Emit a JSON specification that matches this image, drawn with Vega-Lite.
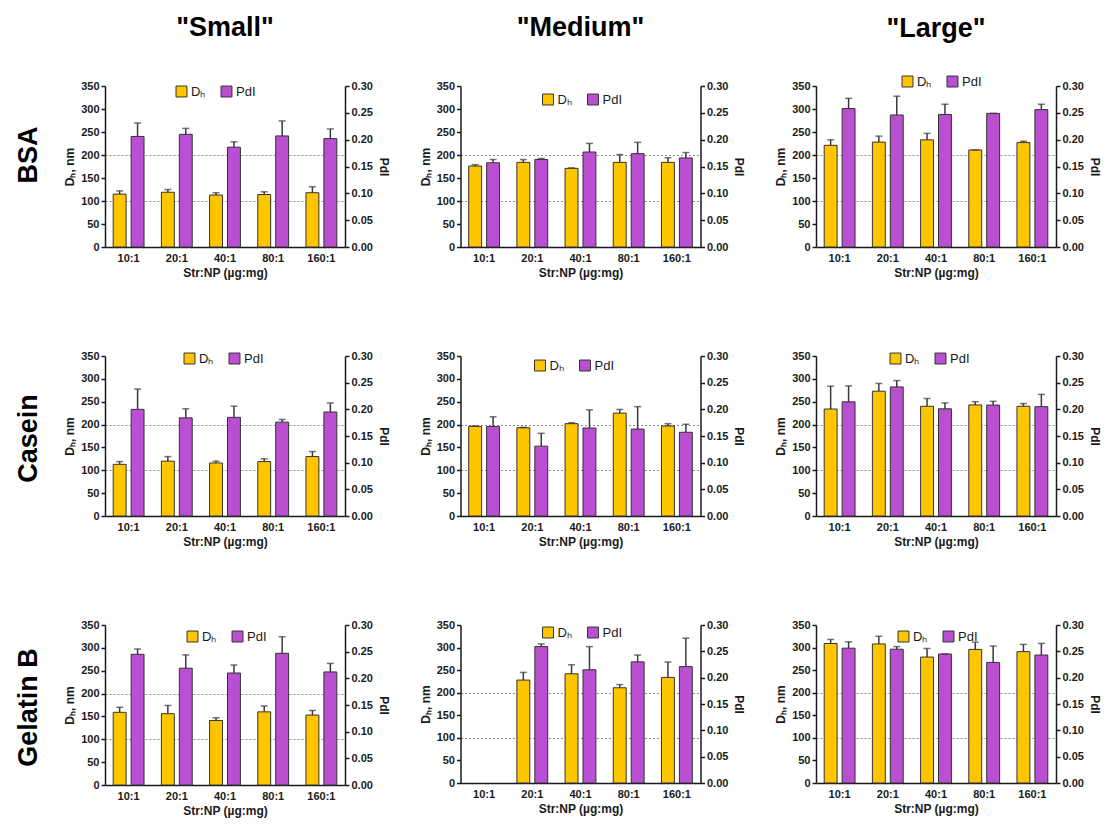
{
"$schema": "https://vega.github.io/schema/vega-lite/v6.json",
"padding": {"left": 14, "top": 14, "right": 0, "bottom": 2},
"background": "white",
"config": {
 "font": "Liberation Sans",
 "view": {"stroke": null},
 "range": {"category": ["#FFC600", "#BA4FD2"]},
 "bar": {"stroke": "#333333", "strokeWidth": 1},
 "rule": {"color": "#3a3a3a", "strokeWidth": 1.5},
 "tick": {"color": "#3a3a3a", "thickness": 1.5},
 "axis": {"domainColor": "#1a1a1a", "domainWidth": 1.5, "tickColor": "#1a1a1a", "tickWidth": 1.5, "tickSize": 4, "labelFont": "Liberation Sans", "labelFontWeight": "bold", "labelFontSize": 11, "labelColor": "#1a1a1a", "titleFont": "Liberation Sans", "titleFontWeight": "bold", "titleFontSize": 12, "titleColor": "#1a1a1a", "grid": false, "labelPadding": 2},
 "axisX": {"ticks": false, "labelPadding": 5, "labelAngle": 0, "titlePadding": 4},
 "legend": {"symbolType": "square", "symbolSize": 120, "symbolStrokeColor": "#333333", "symbolStrokeWidth": 1, "labelFontSize": 13, "labelFont": "Liberation Sans", "labelColor": "#1a1a1a", "columnPadding": 13, "labelOffset": 3},
 "title": {"font": "Liberation Sans", "fontWeight": "bold", "color": "#000000", "frame": "group", "anchor": "middle"}
},
"datasets": {"d": [
 {"p":"BSA","s":"Small","r":"10:1","m":"Dh","v":115,"up":122},
 {"p":"BSA","s":"Small","r":"20:1","m":"Dh","v":119,"up":125},
 {"p":"BSA","s":"Small","r":"40:1","m":"Dh","v":113,"up":118},
 {"p":"BSA","s":"Small","r":"80:1","m":"Dh","v":114,"up":120},
 {"p":"BSA","s":"Small","r":"160:1","m":"Dh","v":118,"up":131},
 {"p":"BSA","s":"Small","r":"10:1","m":"PdI","v":0.206,"up":0.231},
 {"p":"BSA","s":"Small","r":"20:1","m":"PdI","v":0.210,"up":0.221},
 {"p":"BSA","s":"Small","r":"40:1","m":"PdI","v":0.186,"up":0.196},
 {"p":"BSA","s":"Small","r":"80:1","m":"PdI","v":0.207,"up":0.235},
 {"p":"BSA","s":"Small","r":"160:1","m":"PdI","v":0.202,"up":0.220},
 {"p":"BSA","s":"Medium","r":"10:1","m":"Dh","v":176,"up":179},
 {"p":"BSA","s":"Medium","r":"20:1","m":"Dh","v":184,"up":190},
 {"p":"BSA","s":"Medium","r":"40:1","m":"Dh","v":171,"up":172},
 {"p":"BSA","s":"Medium","r":"80:1","m":"Dh","v":184,"up":201},
 {"p":"BSA","s":"Medium","r":"160:1","m":"Dh","v":184,"up":194},
 {"p":"BSA","s":"Medium","r":"10:1","m":"PdI","v":0.157,"up":0.163},
 {"p":"BSA","s":"Medium","r":"20:1","m":"PdI","v":0.163,"up":0.165},
 {"p":"BSA","s":"Medium","r":"40:1","m":"PdI","v":0.177,"up":0.193},
 {"p":"BSA","s":"Medium","r":"80:1","m":"PdI","v":0.174,"up":0.195},
 {"p":"BSA","s":"Medium","r":"160:1","m":"PdI","v":0.166,"up":0.176},
 {"p":"BSA","s":"Large","r":"10:1","m":"Dh","v":221,"up":233},
 {"p":"BSA","s":"Large","r":"20:1","m":"Dh","v":228,"up":241},
 {"p":"BSA","s":"Large","r":"40:1","m":"Dh","v":233,"up":247},
 {"p":"BSA","s":"Large","r":"80:1","m":"Dh","v":211,"up":211},
 {"p":"BSA","s":"Large","r":"160:1","m":"Dh","v":227,"up":230},
 {"p":"BSA","s":"Large","r":"10:1","m":"PdI","v":0.258,"up":0.277},
 {"p":"BSA","s":"Large","r":"20:1","m":"PdI","v":0.246,"up":0.281},
 {"p":"BSA","s":"Large","r":"40:1","m":"PdI","v":0.247,"up":0.266},
 {"p":"BSA","s":"Large","r":"80:1","m":"PdI","v":0.249,"up":0.249},
 {"p":"BSA","s":"Large","r":"160:1","m":"PdI","v":0.256,"up":0.266},
 {"p":"Casein","s":"Small","r":"10:1","m":"Dh","v":113,"up":119},
 {"p":"Casein","s":"Small","r":"20:1","m":"Dh","v":120,"up":130},
 {"p":"Casein","s":"Small","r":"40:1","m":"Dh","v":116,"up":120},
 {"p":"Casein","s":"Small","r":"80:1","m":"Dh","v":119,"up":125},
 {"p":"Casein","s":"Small","r":"160:1","m":"Dh","v":130,"up":141},
 {"p":"Casein","s":"Small","r":"10:1","m":"PdI","v":0.200,"up":0.238},
 {"p":"Casein","s":"Small","r":"20:1","m":"PdI","v":0.184,"up":0.201},
 {"p":"Casein","s":"Small","r":"40:1","m":"PdI","v":0.185,"up":0.206},
 {"p":"Casein","s":"Small","r":"80:1","m":"PdI","v":0.176,"up":0.181},
 {"p":"Casein","s":"Small","r":"160:1","m":"PdI","v":0.195,"up":0.212},
 {"p":"Casein","s":"Medium","r":"10:1","m":"Dh","v":196,"up":197},
 {"p":"Casein","s":"Medium","r":"20:1","m":"Dh","v":193,"up":194},
 {"p":"Casein","s":"Medium","r":"40:1","m":"Dh","v":202,"up":204},
 {"p":"Casein","s":"Medium","r":"80:1","m":"Dh","v":225,"up":233},
 {"p":"Casein","s":"Medium","r":"160:1","m":"Dh","v":197,"up":202},
 {"p":"Casein","s":"Medium","r":"10:1","m":"PdI","v":0.168,"up":0.186},
 {"p":"Casein","s":"Medium","r":"20:1","m":"PdI","v":0.131,"up":0.155},
 {"p":"Casein","s":"Medium","r":"40:1","m":"PdI","v":0.165,"up":0.199},
 {"p":"Casein","s":"Medium","r":"80:1","m":"PdI","v":0.163,"up":0.205},
 {"p":"Casein","s":"Medium","r":"160:1","m":"PdI","v":0.157,"up":0.172},
 {"p":"Casein","s":"Large","r":"10:1","m":"Dh","v":234,"up":284},
 {"p":"Casein","s":"Large","r":"20:1","m":"Dh","v":273,"up":290},
 {"p":"Casein","s":"Large","r":"40:1","m":"Dh","v":240,"up":257},
 {"p":"Casein","s":"Large","r":"80:1","m":"Dh","v":243,"up":250},
 {"p":"Casein","s":"Large","r":"160:1","m":"Dh","v":240,"up":246},
 {"p":"Casein","s":"Large","r":"10:1","m":"PdI","v":0.214,"up":0.244},
 {"p":"Casein","s":"Large","r":"20:1","m":"PdI","v":0.242,"up":0.254},
 {"p":"Casein","s":"Large","r":"40:1","m":"PdI","v":0.201,"up":0.212},
 {"p":"Casein","s":"Large","r":"80:1","m":"PdI","v":0.208,"up":0.215},
 {"p":"Casein","s":"Large","r":"160:1","m":"PdI","v":0.205,"up":0.228},
 {"p":"Gelatin B","s":"Small","r":"10:1","m":"Dh","v":159,"up":170},
 {"p":"Gelatin B","s":"Small","r":"20:1","m":"Dh","v":156,"up":174},
 {"p":"Gelatin B","s":"Small","r":"40:1","m":"Dh","v":141,"up":147},
 {"p":"Gelatin B","s":"Small","r":"80:1","m":"Dh","v":160,"up":173},
 {"p":"Gelatin B","s":"Small","r":"160:1","m":"Dh","v":153,"up":163},
 {"p":"Gelatin B","s":"Small","r":"10:1","m":"PdI","v":0.245,"up":0.255},
 {"p":"Gelatin B","s":"Small","r":"20:1","m":"PdI","v":0.219,"up":0.244},
 {"p":"Gelatin B","s":"Small","r":"40:1","m":"PdI","v":0.210,"up":0.225},
 {"p":"Gelatin B","s":"Small","r":"80:1","m":"PdI","v":0.247,"up":0.278},
 {"p":"Gelatin B","s":"Small","r":"160:1","m":"PdI","v":0.212,"up":0.228},
 {"p":"Gelatin B","s":"Medium","r":"20:1","m":"Dh","v":228,"up":245},
 {"p":"Gelatin B","s":"Medium","r":"40:1","m":"Dh","v":242,"up":262},
 {"p":"Gelatin B","s":"Medium","r":"80:1","m":"Dh","v":211,"up":218},
 {"p":"Gelatin B","s":"Medium","r":"160:1","m":"Dh","v":234,"up":268},
 {"p":"Gelatin B","s":"Medium","r":"20:1","m":"PdI","v":0.259,"up":0.264},
 {"p":"Gelatin B","s":"Medium","r":"40:1","m":"PdI","v":0.215,"up":0.259},
 {"p":"Gelatin B","s":"Medium","r":"80:1","m":"PdI","v":0.230,"up":0.243},
 {"p":"Gelatin B","s":"Medium","r":"160:1","m":"PdI","v":0.221,"up":0.275},
 {"p":"Gelatin B","s":"Large","r":"10:1","m":"Dh","v":309,"up":318},
 {"p":"Gelatin B","s":"Large","r":"20:1","m":"Dh","v":308,"up":325},
 {"p":"Gelatin B","s":"Large","r":"40:1","m":"Dh","v":279,"up":298},
 {"p":"Gelatin B","s":"Large","r":"80:1","m":"Dh","v":296,"up":312},
 {"p":"Gelatin B","s":"Large","r":"160:1","m":"Dh","v":291,"up":307},
 {"p":"Gelatin B","s":"Large","r":"10:1","m":"PdI","v":0.256,"up":0.268},
 {"p":"Gelatin B","s":"Large","r":"20:1","m":"PdI","v":0.254,"up":0.259},
 {"p":"Gelatin B","s":"Large","r":"40:1","m":"PdI","v":0.245,"up":0.245},
 {"p":"Gelatin B","s":"Large","r":"80:1","m":"PdI","v":0.229,"up":0.260},
 {"p":"Gelatin B","s":"Large","r":"160:1","m":"PdI","v":0.243,"up":0.265}
]},
"data": {"name": "d"},
"spacing": 72,
"resolve": {"scale": {"color": "independent"}, "legend": {"color": "independent"}},
"vconcat": [
 {"title": {"text": "BSA", "orient": "left", "fontSize": 27, "offset": 21, "frame": "bounds", "dx": -9},
  "spacing": 28.5,
  "resolve": {"scale": {"color": "independent"}, "legend": {"color": "independent"}},
  "hconcat": [
   {"width": 240, "height": 161,
    "title": {"text": "\"Small\"", "fontSize": 27, "offset": 38},
    "transform": [{"filter": "datum.p==='BSA' && datum.s==='Small'"}],
    "encoding": {"x": {"field": "r", "type": "nominal", "scale": {"domain": ["10:1","20:1","40:1","80:1","160:1"], "paddingInner": 0.36, "paddingOuter": 0.17}, "axis": {"title": "Str:NP (µg:mg)"}},
                 "xOffset": {"field": "m", "type": "nominal", "scale": {"domain": ["Dh","PdI"], "paddingInner": 0.28, "paddingOuter": 0}}},
    "layer": [
     {"transform": [{"filter": "datum.m==='Dh'"}],
      "encoding": {"y": {"field": "v", "type": "quantitative", "title": "Dₕ, nm", "scale": {"domain": [0,350], "nice": false}, "axis": {"values": [0,50,100,150,200,250,300,350], "titlePadding": 4, "grid": true, "gridDash": [2,2], "gridColor": "#8c8c8c", "gridOpacity": {"condition": {"test": "datum.value===100||datum.value===200", "value": 1}, "value": 0}}}},
      "layer": [
       {"mark": "rule", "encoding": {"y2": {"field": "up"}}},
       {"mark": "bar", "encoding": {"color": {"field": "m", "type": "nominal", "legend": {"title": null, "orient": "none", "legendX": 70, "legendY": -1, "direction": "horizontal", "labelExpr": "datum.label==='Dh'?'Dₕ':'PdI'"}}}},
       {"mark": {"type": "tick", "size": 7}, "encoding": {"y": {"field": "up", "type": "quantitative", "title": "Dₕ, nm", "scale": {"domain": [0,350], "nice": false}}}}
      ]},
     {"transform": [{"filter": "datum.m==='PdI'"}],
      "encoding": {"y": {"field": "v", "type": "quantitative", "title": "PdI", "scale": {"domain": [0,0.3], "nice": false}, "axis": {"orient": "right", "values": [0,0.05,0.1,0.15,0.2,0.25,0.3], "format": ".2f", "titlePadding": 4}}},
      "layer": [
       {"mark": "rule", "encoding": {"y2": {"field": "up"}}},
       {"mark": "bar", "encoding": {"color": {"field": "m", "type": "nominal", "legend": {"title": null, "orient": "none", "legendX": 70, "legendY": -1, "direction": "horizontal", "labelExpr": "datum.label==='Dh'?'Dₕ':'PdI'"}}}},
       {"mark": {"type": "tick", "size": 7}, "encoding": {"y": {"field": "up", "type": "quantitative", "title": "PdI", "scale": {"domain": [0,0.3], "nice": false}}}}
      ]}
    ],
    "resolve": {"scale": {"y": "independent"}}},
   {"width": 240, "height": 161,
    "title": {"text": "\"Medium\"", "fontSize": 27, "offset": 38},
    "transform": [{"filter": "datum.p==='BSA' && datum.s==='Medium'"}],
    "encoding": {"x": {"field": "r", "type": "nominal", "scale": {"domain": ["10:1","20:1","40:1","80:1","160:1"], "paddingInner": 0.36, "paddingOuter": 0.17}, "axis": {"title": "Str:NP (µg:mg)"}},
                 "xOffset": {"field": "m", "type": "nominal", "scale": {"domain": ["Dh","PdI"], "paddingInner": 0.28, "paddingOuter": 0}}},
    "layer": [
     {"transform": [{"filter": "datum.m==='Dh'"}],
      "encoding": {"y": {"field": "v", "type": "quantitative", "title": "Dₕ, nm", "scale": {"domain": [0,350], "nice": false}, "axis": {"values": [0,50,100,150,200,250,300,350], "titlePadding": 4, "grid": true, "gridDash": [2,2], "gridColor": "#8c8c8c", "gridOpacity": {"condition": {"test": "datum.value===100||datum.value===200", "value": 1}, "value": 0}}}},
      "layer": [
       {"mark": "rule", "encoding": {"y2": {"field": "up"}}},
       {"mark": "bar", "encoding": {"color": {"field": "m", "type": "nominal", "legend": {"title": null, "orient": "none", "legendX": 81, "legendY": 7, "direction": "horizontal", "labelExpr": "datum.label==='Dh'?'Dₕ':'PdI'"}}}},
       {"mark": {"type": "tick", "size": 7}, "encoding": {"y": {"field": "up", "type": "quantitative", "title": "Dₕ, nm", "scale": {"domain": [0,350], "nice": false}}}}
      ]},
     {"transform": [{"filter": "datum.m==='PdI'"}],
      "encoding": {"y": {"field": "v", "type": "quantitative", "title": "PdI", "scale": {"domain": [0,0.3], "nice": false}, "axis": {"orient": "right", "values": [0,0.05,0.1,0.15,0.2,0.25,0.3], "format": ".2f", "titlePadding": 4}}},
      "layer": [
       {"mark": "rule", "encoding": {"y2": {"field": "up"}}},
       {"mark": "bar", "encoding": {"color": {"field": "m", "type": "nominal", "legend": {"title": null, "orient": "none", "legendX": 81, "legendY": 7, "direction": "horizontal", "labelExpr": "datum.label==='Dh'?'Dₕ':'PdI'"}}}},
       {"mark": {"type": "tick", "size": 7}, "encoding": {"y": {"field": "up", "type": "quantitative", "title": "PdI", "scale": {"domain": [0,0.3], "nice": false}}}}
      ]}
    ],
    "resolve": {"scale": {"y": "independent"}}},
   {"width": 240, "height": 161,
    "title": {"text": "\"Large\"", "fontSize": 27, "offset": 32},
    "transform": [{"filter": "datum.p==='BSA' && datum.s==='Large'"}],
    "encoding": {"x": {"field": "r", "type": "nominal", "scale": {"domain": ["10:1","20:1","40:1","80:1","160:1"], "paddingInner": 0.36, "paddingOuter": 0.17}, "axis": {"title": "Str:NP (µg:mg)"}},
                 "xOffset": {"field": "m", "type": "nominal", "scale": {"domain": ["Dh","PdI"], "paddingInner": 0.28, "paddingOuter": 0}}},
    "layer": [
     {"transform": [{"filter": "datum.m==='Dh'"}],
      "encoding": {"y": {"field": "v", "type": "quantitative", "title": "Dₕ, nm", "scale": {"domain": [0,350], "nice": false}, "axis": {"values": [0,50,100,150,200,250,300,350], "titlePadding": 4, "grid": true, "gridDash": [2,2], "gridColor": "#8c8c8c", "gridOpacity": {"condition": {"test": "datum.value===100||datum.value===200", "value": 1}, "value": 0}}}},
      "layer": [
       {"mark": "rule", "encoding": {"y2": {"field": "up"}}},
       {"mark": "bar", "encoding": {"color": {"field": "m", "type": "nominal", "legend": {"title": null, "orient": "none", "legendX": 85, "legendY": -11, "direction": "horizontal", "labelExpr": "datum.label==='Dh'?'Dₕ':'PdI'"}}}},
       {"mark": {"type": "tick", "size": 7}, "encoding": {"y": {"field": "up", "type": "quantitative", "title": "Dₕ, nm", "scale": {"domain": [0,350], "nice": false}}}}
      ]},
     {"transform": [{"filter": "datum.m==='PdI'"}],
      "encoding": {"y": {"field": "v", "type": "quantitative", "title": "PdI", "scale": {"domain": [0,0.3], "nice": false}, "axis": {"orient": "right", "values": [0,0.05,0.1,0.15,0.2,0.25,0.3], "format": ".2f", "titlePadding": 4}}},
      "layer": [
       {"mark": "rule", "encoding": {"y2": {"field": "up"}}},
       {"mark": "bar", "encoding": {"color": {"field": "m", "type": "nominal", "legend": {"title": null, "orient": "none", "legendX": 85, "legendY": -11, "direction": "horizontal", "labelExpr": "datum.label==='Dh'?'Dₕ':'PdI'"}}}},
       {"mark": {"type": "tick", "size": 7}, "encoding": {"y": {"field": "up", "type": "quantitative", "title": "PdI", "scale": {"domain": [0,0.3], "nice": false}}}}
      ]}
    ],
    "resolve": {"scale": {"y": "independent"}}}
  ]},
 {"title": {"text": "Casein", "orient": "left", "fontSize": 27, "offset": 21, "frame": "bounds", "dx": 10},
  "spacing": 28.5,
  "resolve": {"scale": {"color": "independent"}, "legend": {"color": "independent"}},
  "hconcat": [
   {"width": 240, "height": 160,
    "transform": [{"filter": "datum.p==='Casein' && datum.s==='Small'"}],
    "encoding": {"x": {"field": "r", "type": "nominal", "scale": {"domain": ["10:1","20:1","40:1","80:1","160:1"], "paddingInner": 0.36, "paddingOuter": 0.17}, "axis": {"title": "Str:NP (µg:mg)"}},
                 "xOffset": {"field": "m", "type": "nominal", "scale": {"domain": ["Dh","PdI"], "paddingInner": 0.28, "paddingOuter": 0}}},
    "layer": [
     {"transform": [{"filter": "datum.m==='Dh'"}],
      "encoding": {"y": {"field": "v", "type": "quantitative", "title": "Dₕ, nm", "scale": {"domain": [0,350], "nice": false}, "axis": {"values": [0,50,100,150,200,250,300,350], "titlePadding": 4, "grid": true, "gridDash": [2,2], "gridColor": "#8c8c8c", "gridOpacity": {"condition": {"test": "datum.value===100||datum.value===200", "value": 1}, "value": 0}}}},
      "layer": [
       {"mark": "rule", "encoding": {"y2": {"field": "up"}}},
       {"mark": "bar", "encoding": {"color": {"field": "m", "type": "nominal", "legend": {"title": null, "orient": "none", "legendX": 78, "legendY": -4, "direction": "horizontal", "labelExpr": "datum.label==='Dh'?'Dₕ':'PdI'"}}}},
       {"mark": {"type": "tick", "size": 7}, "encoding": {"y": {"field": "up", "type": "quantitative", "title": "Dₕ, nm", "scale": {"domain": [0,350], "nice": false}}}}
      ]},
     {"transform": [{"filter": "datum.m==='PdI'"}],
      "encoding": {"y": {"field": "v", "type": "quantitative", "title": "PdI", "scale": {"domain": [0,0.3], "nice": false}, "axis": {"orient": "right", "values": [0,0.05,0.1,0.15,0.2,0.25,0.3], "format": ".2f", "titlePadding": 4}}},
      "layer": [
       {"mark": "rule", "encoding": {"y2": {"field": "up"}}},
       {"mark": "bar", "encoding": {"color": {"field": "m", "type": "nominal", "legend": {"title": null, "orient": "none", "legendX": 78, "legendY": -4, "direction": "horizontal", "labelExpr": "datum.label==='Dh'?'Dₕ':'PdI'"}}}},
       {"mark": {"type": "tick", "size": 7}, "encoding": {"y": {"field": "up", "type": "quantitative", "title": "PdI", "scale": {"domain": [0,0.3], "nice": false}}}}
      ]}
    ],
    "resolve": {"scale": {"y": "independent"}}},
   {"width": 240, "height": 160,
    "transform": [{"filter": "datum.p==='Casein' && datum.s==='Medium'"}],
    "encoding": {"x": {"field": "r", "type": "nominal", "scale": {"domain": ["10:1","20:1","40:1","80:1","160:1"], "paddingInner": 0.36, "paddingOuter": 0.17}, "axis": {"title": "Str:NP (µg:mg)"}},
                 "xOffset": {"field": "m", "type": "nominal", "scale": {"domain": ["Dh","PdI"], "paddingInner": 0.28, "paddingOuter": 0}}},
    "layer": [
     {"transform": [{"filter": "datum.m==='Dh'"}],
      "encoding": {"y": {"field": "v", "type": "quantitative", "title": "Dₕ, nm", "scale": {"domain": [0,350], "nice": false}, "axis": {"values": [0,50,100,150,200,250,300,350], "titlePadding": 4, "grid": true, "gridDash": [2,2], "gridColor": "#8c8c8c", "gridOpacity": {"condition": {"test": "datum.value===100||datum.value===200", "value": 1}, "value": 0}}}},
      "layer": [
       {"mark": "rule", "encoding": {"y2": {"field": "up"}}},
       {"mark": "bar", "encoding": {"color": {"field": "m", "type": "nominal", "legend": {"title": null, "orient": "none", "legendX": 73, "legendY": 3, "direction": "horizontal", "labelExpr": "datum.label==='Dh'?'Dₕ':'PdI'"}}}},
       {"mark": {"type": "tick", "size": 7}, "encoding": {"y": {"field": "up", "type": "quantitative", "title": "Dₕ, nm", "scale": {"domain": [0,350], "nice": false}}}}
      ]},
     {"transform": [{"filter": "datum.m==='PdI'"}],
      "encoding": {"y": {"field": "v", "type": "quantitative", "title": "PdI", "scale": {"domain": [0,0.3], "nice": false}, "axis": {"orient": "right", "values": [0,0.05,0.1,0.15,0.2,0.25,0.3], "format": ".2f", "titlePadding": 4}}},
      "layer": [
       {"mark": "rule", "encoding": {"y2": {"field": "up"}}},
       {"mark": "bar", "encoding": {"color": {"field": "m", "type": "nominal", "legend": {"title": null, "orient": "none", "legendX": 73, "legendY": 3, "direction": "horizontal", "labelExpr": "datum.label==='Dh'?'Dₕ':'PdI'"}}}},
       {"mark": {"type": "tick", "size": 7}, "encoding": {"y": {"field": "up", "type": "quantitative", "title": "PdI", "scale": {"domain": [0,0.3], "nice": false}}}}
      ]}
    ],
    "resolve": {"scale": {"y": "independent"}}},
   {"width": 240, "height": 160,
    "transform": [{"filter": "datum.p==='Casein' && datum.s==='Large'"}],
    "encoding": {"x": {"field": "r", "type": "nominal", "scale": {"domain": ["10:1","20:1","40:1","80:1","160:1"], "paddingInner": 0.36, "paddingOuter": 0.17}, "axis": {"title": "Str:NP (µg:mg)"}},
                 "xOffset": {"field": "m", "type": "nominal", "scale": {"domain": ["Dh","PdI"], "paddingInner": 0.28, "paddingOuter": 0}}},
    "layer": [
     {"transform": [{"filter": "datum.m==='Dh'"}],
      "encoding": {"y": {"field": "v", "type": "quantitative", "title": "Dₕ, nm", "scale": {"domain": [0,350], "nice": false}, "axis": {"values": [0,50,100,150,200,250,300,350], "titlePadding": 4, "grid": true, "gridDash": [2,2], "gridColor": "#8c8c8c", "gridOpacity": {"condition": {"test": "datum.value===100||datum.value===200", "value": 1}, "value": 0}}}},
      "layer": [
       {"mark": "rule", "encoding": {"y2": {"field": "up"}}},
       {"mark": "bar", "encoding": {"color": {"field": "m", "type": "nominal", "legend": {"title": null, "orient": "none", "legendX": 73, "legendY": -4, "direction": "horizontal", "labelExpr": "datum.label==='Dh'?'Dₕ':'PdI'"}}}},
       {"mark": {"type": "tick", "size": 7}, "encoding": {"y": {"field": "up", "type": "quantitative", "title": "Dₕ, nm", "scale": {"domain": [0,350], "nice": false}}}}
      ]},
     {"transform": [{"filter": "datum.m==='PdI'"}],
      "encoding": {"y": {"field": "v", "type": "quantitative", "title": "PdI", "scale": {"domain": [0,0.3], "nice": false}, "axis": {"orient": "right", "values": [0,0.05,0.1,0.15,0.2,0.25,0.3], "format": ".2f", "titlePadding": 4}}},
      "layer": [
       {"mark": "rule", "encoding": {"y2": {"field": "up"}}},
       {"mark": "bar", "encoding": {"color": {"field": "m", "type": "nominal", "legend": {"title": null, "orient": "none", "legendX": 73, "legendY": -4, "direction": "horizontal", "labelExpr": "datum.label==='Dh'?'Dₕ':'PdI'"}}}},
       {"mark": {"type": "tick", "size": 7}, "encoding": {"y": {"field": "up", "type": "quantitative", "title": "PdI", "scale": {"domain": [0,0.3], "nice": false}}}}
      ]}
    ],
    "resolve": {"scale": {"y": "independent"}}}
  ]},
 {"title": {"text": "Gelatin B", "orient": "left", "fontSize": 27, "offset": 21, "frame": "bounds", "dx": 10},
  "spacing": 28.5,
  "resolve": {"scale": {"color": "independent"}, "legend": {"color": "independent"}},
  "hconcat": [
   {"width": 240, "height": 160,
    "transform": [{"filter": "datum.p==='Gelatin B' && datum.s==='Small'"}],
    "encoding": {"x": {"field": "r", "type": "nominal", "scale": {"domain": ["10:1","20:1","40:1","80:1","160:1"], "paddingInner": 0.36, "paddingOuter": 0.17}, "axis": {"title": "Str:NP (µg:mg)"}},
                 "xOffset": {"field": "m", "type": "nominal", "scale": {"domain": ["Dh","PdI"], "paddingInner": 0.28, "paddingOuter": 0}}},
    "layer": [
     {"transform": [{"filter": "datum.m==='Dh'"}],
      "encoding": {"y": {"field": "v", "type": "quantitative", "title": "Dₕ, nm", "scale": {"domain": [0,350], "nice": false}, "axis": {"values": [0,50,100,150,200,250,300,350], "titlePadding": 4, "grid": true, "gridDash": [2,2], "gridColor": "#8c8c8c", "gridOpacity": {"condition": {"test": "datum.value===100||datum.value===200", "value": 1}, "value": 0}}}},
      "layer": [
       {"mark": "rule", "encoding": {"y2": {"field": "up"}}},
       {"mark": "bar", "encoding": {"color": {"field": "m", "type": "nominal", "legend": {"title": null, "orient": "none", "legendX": 81, "legendY": 5, "direction": "horizontal", "labelExpr": "datum.label==='Dh'?'Dₕ':'PdI'"}}}},
       {"mark": {"type": "tick", "size": 7}, "encoding": {"y": {"field": "up", "type": "quantitative", "title": "Dₕ, nm", "scale": {"domain": [0,350], "nice": false}}}}
      ]},
     {"transform": [{"filter": "datum.m==='PdI'"}],
      "encoding": {"y": {"field": "v", "type": "quantitative", "title": "PdI", "scale": {"domain": [0,0.3], "nice": false}, "axis": {"orient": "right", "values": [0,0.05,0.1,0.15,0.2,0.25,0.3], "format": ".2f", "titlePadding": 4}}},
      "layer": [
       {"mark": "rule", "encoding": {"y2": {"field": "up"}}},
       {"mark": "bar", "encoding": {"color": {"field": "m", "type": "nominal", "legend": {"title": null, "orient": "none", "legendX": 81, "legendY": 5, "direction": "horizontal", "labelExpr": "datum.label==='Dh'?'Dₕ':'PdI'"}}}},
       {"mark": {"type": "tick", "size": 7}, "encoding": {"y": {"field": "up", "type": "quantitative", "title": "PdI", "scale": {"domain": [0,0.3], "nice": false}}}}
      ]}
    ],
    "resolve": {"scale": {"y": "independent"}}},
   {"width": 240, "height": 158,
    "transform": [{"filter": "datum.p==='Gelatin B' && datum.s==='Medium'"}],
    "encoding": {"x": {"field": "r", "type": "nominal", "scale": {"domain": ["10:1","20:1","40:1","80:1","160:1"], "paddingInner": 0.36, "paddingOuter": 0.17}, "axis": {"title": "Str:NP (µg:mg)"}},
                 "xOffset": {"field": "m", "type": "nominal", "scale": {"domain": ["Dh","PdI"], "paddingInner": 0.28, "paddingOuter": 0}}},
    "layer": [
     {"transform": [{"filter": "datum.m==='Dh'"}],
      "encoding": {"y": {"field": "v", "type": "quantitative", "title": "Dₕ, nm", "scale": {"domain": [0,350], "nice": false}, "axis": {"values": [0,50,100,150,200,250,300,350], "titlePadding": 4, "grid": true, "gridDash": [2,2], "gridColor": "#8c8c8c", "gridOpacity": {"condition": {"test": "datum.value===100||datum.value===200", "value": 1}, "value": 0}}}},
      "layer": [
       {"mark": "rule", "encoding": {"y2": {"field": "up"}}},
       {"mark": "bar", "encoding": {"color": {"field": "m", "type": "nominal", "legend": {"title": null, "orient": "none", "legendX": 81, "legendY": 1, "direction": "horizontal", "labelExpr": "datum.label==='Dh'?'Dₕ':'PdI'"}}}},
       {"mark": {"type": "tick", "size": 7}, "encoding": {"y": {"field": "up", "type": "quantitative", "title": "Dₕ, nm", "scale": {"domain": [0,350], "nice": false}}}}
      ]},
     {"transform": [{"filter": "datum.m==='PdI'"}],
      "encoding": {"y": {"field": "v", "type": "quantitative", "title": "PdI", "scale": {"domain": [0,0.3], "nice": false}, "axis": {"orient": "right", "values": [0,0.05,0.1,0.15,0.2,0.25,0.3], "format": ".2f", "titlePadding": 4}}},
      "layer": [
       {"mark": "rule", "encoding": {"y2": {"field": "up"}}},
       {"mark": "bar", "encoding": {"color": {"field": "m", "type": "nominal", "legend": {"title": null, "orient": "none", "legendX": 81, "legendY": 1, "direction": "horizontal", "labelExpr": "datum.label==='Dh'?'Dₕ':'PdI'"}}}},
       {"mark": {"type": "tick", "size": 7}, "encoding": {"y": {"field": "up", "type": "quantitative", "title": "PdI", "scale": {"domain": [0,0.3], "nice": false}}}}
      ]}
    ],
    "resolve": {"scale": {"y": "independent"}}},
   {"width": 240, "height": 158,
    "transform": [{"filter": "datum.p==='Gelatin B' && datum.s==='Large'"}],
    "encoding": {"x": {"field": "r", "type": "nominal", "scale": {"domain": ["10:1","20:1","40:1","80:1","160:1"], "paddingInner": 0.36, "paddingOuter": 0.17}, "axis": {"title": "Str:NP (µg:mg)"}},
                 "xOffset": {"field": "m", "type": "nominal", "scale": {"domain": ["Dh","PdI"], "paddingInner": 0.28, "paddingOuter": 0}}},
    "layer": [
     {"transform": [{"filter": "datum.m==='Dh'"}],
      "encoding": {"y": {"field": "v", "type": "quantitative", "title": "Dₕ, nm", "scale": {"domain": [0,350], "nice": false}, "axis": {"values": [0,50,100,150,200,250,300,350], "titlePadding": 4, "grid": true, "gridDash": [2,2], "gridColor": "#8c8c8c", "gridOpacity": {"condition": {"test": "datum.value===100||datum.value===200", "value": 1}, "value": 0}}}},
      "layer": [
       {"mark": "rule", "encoding": {"y2": {"field": "up"}}},
       {"mark": "bar", "encoding": {"color": {"field": "m", "type": "nominal", "legend": {"title": null, "orient": "none", "legendX": 81, "legendY": 5, "direction": "horizontal", "labelExpr": "datum.label==='Dh'?'Dₕ':'PdI'"}}}},
       {"mark": {"type": "tick", "size": 7}, "encoding": {"y": {"field": "up", "type": "quantitative", "title": "Dₕ, nm", "scale": {"domain": [0,350], "nice": false}}}}
      ]},
     {"transform": [{"filter": "datum.m==='PdI'"}],
      "encoding": {"y": {"field": "v", "type": "quantitative", "title": "PdI", "scale": {"domain": [0,0.3], "nice": false}, "axis": {"orient": "right", "values": [0,0.05,0.1,0.15,0.2,0.25,0.3], "format": ".2f", "titlePadding": 4}}},
      "layer": [
       {"mark": "rule", "encoding": {"y2": {"field": "up"}}},
       {"mark": "bar", "encoding": {"color": {"field": "m", "type": "nominal", "legend": {"title": null, "orient": "none", "legendX": 81, "legendY": 5, "direction": "horizontal", "labelExpr": "datum.label==='Dh'?'Dₕ':'PdI'"}}}},
       {"mark": {"type": "tick", "size": 7}, "encoding": {"y": {"field": "up", "type": "quantitative", "title": "PdI", "scale": {"domain": [0,0.3], "nice": false}}}}
      ]}
    ],
    "resolve": {"scale": {"y": "independent"}}}
  ]}
]
}
